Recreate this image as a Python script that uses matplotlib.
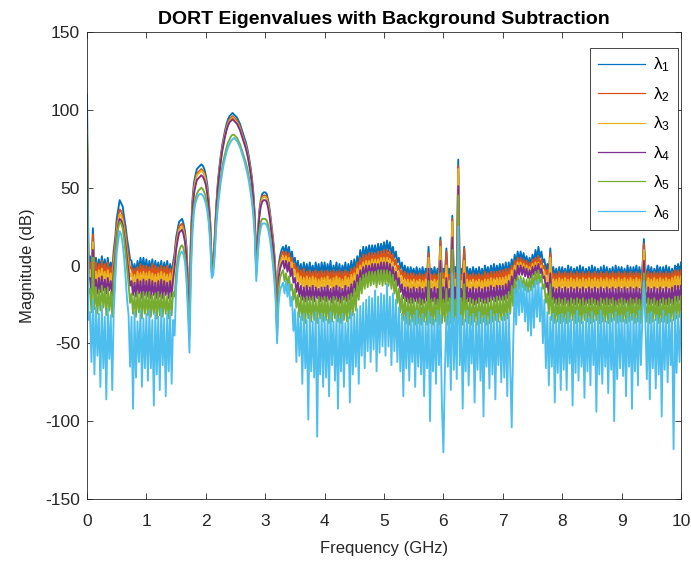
import numpy as np
import matplotlib
matplotlib.use("Agg")
import matplotlib.pyplot as plt

plt.rcParams["font.family"] = ["Liberation Sans", "DejaVu Sans"]
plt.rcParams["axes.unicode_minus"] = False
plt.rcParams["mathtext.default"] = "regular"

# Eigenvalue magnitudes (dB), one row per GHz, sampled every 25 MHz
STEP_GHZ = 0.025

lambda1_db = [
    [110, 2, 6, -3, 24, -2, 5, -4, 4, -3, 6, -2, 4, -4, 5, -3, 2, -4, 10, 18, 30, 36, 42, 40, 38, 31, 25, 17, 11, 4, 3, -4, 1, -5, 3, -3, 5, -2, 5, -3],
    [4, -4, 3, -3, 4, -5, 3, -3, 2, -4, 3, -5, 2, -4, 3, -5, 1, -5, 2, 8, 18, 23, 28, 29, 30, 27, 22, 12, -10, -30, 20, 42, 53, 58, 62, 63, 64, 65, 64, 62],
    [58, 52, 42, 28, 0, 3, 18, 38, 52, 62, 70, 77, 82, 87, 91, 94, 96, 97, 98, 97, 96, 95, 93, 91, 88, 85, 82, 79, 75, 70, 64, 57, 47, 32, 0, 20, 35, 42, 46, 47],
    [47, 46, 42, 36, 28, 20, 10, -5, -35, 0, 6, 10, 12, 8, 13, 7, 12, 5, 9, 2, 5, -3, 3, -5, 1, -6, 2, -5, 1, -6, 2, -5, 0, -6, 2, -5, 1, -7, 2, -5],
    [2, -6, 1, -5, 3, -7, 0, -5, 2, -6, 1, -7, 0, -5, 2, -6, 1, -5, 3, -4, 4, -3, 6, 0, 10, 3, 12, 5, 12, 6, 13, 6, 13, 7, 13, 6, 14, 7, 14, 8],
    [15, 8, 16, 9, 15, 7, 12, 5, 9, 2, 5, -2, 2, -5, 0, -6, -1, -7, -1, -6, -2, -7, -1, -8, -2, -7, -1, -8, -2, -7, 12, -8, -2, -7, -1, -8, -2, -7, 18, -8],
    [-2, -7, 11, -8, -2, -7, 32, -8, -1, -7, 68, -8, -2, -7, 12, -8, -1, -7, -2, -8, -1, -7, -2, -8, -1, -7, -2, -7, 0, -6, -1, -7, 0, -6, 1, -6, 0, -5, 1, -6],
    [1, -5, 2, -6, 2, -4, 4, -2, 7, 1, 9, 3, 9, 3, 8, 2, 6, 0, 5, 0, 7, 2, 10, 4, 12, 5, 9, 2, 4, -3, 1, -5, 11, -6, -1, -7, -2, -8, -1, -7],
    [-1, -7, -2, -8, 0, -7, -1, -8, -2, -6, -1, -8, 0, -7, -1, -8, -2, -7, -1, -8, 0, -6, -1, -8, -2, -7, -1, -8, 0, -7, -1, -8, -2, -7, -1, -8, 0, -7, -1, -6],
    [-1, -7, -2, -8, 0, -7, -1, -8, -1, -6, 0, -8, -1, -7, -2, 17, -1, -8, 0, -7, -1, -8, -2, -7, 0, -6, -1, -8, -1, -7, 0, -7, -1, -8, -2, -7, 0, -6, 1, -6, 2],
]

lambda2_db = [
    [88, -2, 2, -6, 20, -5, 2, -7, 1, -6, 3, -5, 1, -7, 2, -6, -1, -7, 6, 14, 25, 31, 36, 35, 32, 26, 20, 12, 6, -2, -1, -7, -2, -8, -1, -7, 1, -6, 0, -7],
    [0, -7, -1, -8, 1, -8, 0, -7, -1, -8, 0, -8, -1, -7, 0, -8, -2, -8, -1, 5, 15, 20, 25, 26, 27, 24, 19, 9, -12, -32, 18, 39, 50, 55, 59, 60, 61, 62, 61, 59],
    [55, 49, 40, 26, -1, 2, 16, 36, 50, 60, 68, 75, 80, 85, 89, 92, 94, 95, 96, 95, 94, 93, 91, 89, 86, 83, 80, 77, 73, 68, 62, 55, 45, 30, -2, 18, 33, 40, 44, 45],
    [45, 44, 40, 34, 26, 18, 8, -8, -38, -3, 3, 7, 9, 5, 9, 3, 8, 1, 5, -2, 1, -6, -1, -8, -3, -9, -2, -10, -4, -9, -3, -10, -4, -9, -3, -11, -4, -10, -3, -9],
    [-4, -10, -3, -9, -4, -11, -3, -10, -4, -9, -3, -11, -4, -10, -3, -9, -4, -10, -2, -8, -1, -7, 2, -4, 5, -2, 7, 0, 7, 1, 8, 1, 8, 2, 8, 2, 9, 2, 9, 3],
    [10, 3, 10, 4, 9, 2, 7, 0, 4, -3, 0, -6, -3, -9, -4, -10, -5, -11, -5, -10, -5, -11, -6, -10, -5, -11, -6, -11, -5, -10, 8, -11, -6, -10, -5, -11, -6, -10, 16, -11],
    [-5, -11, 9, -10, -6, -11, 30, -10, -5, -11, 64, -10, -6, -11, 11, -10, -5, -11, -6, -10, -5, -11, -6, -10, -5, -11, -6, -11, -4, -10, -5, -10, -4, -10, -4, -9, -4, -10, -3, -9],
    [-3, -9, -2, -9, -2, -8, 0, -6, 3, -2, 5, 0, 5, -1, 4, -2, 3, -3, 2, -3, 4, -1, 5, 0, 6, 0, 4, -2, 0, -6, -3, -8, 8, -9, -5, -10, -5, -11, -4, -10],
    [-5, -10, -4, -11, -5, -10, -4, -10, -5, -11, -4, -10, -5, -11, -4, -10, -5, -10, -4, -11, -5, -10, -4, -10, -5, -11, -4, -10, -5, -10, -4, -11, -5, -10, -4, -10, -5, -11, -4, -10],
    [-5, -10, -4, -11, -5, -10, -4, -10, -5, -11, -4, -10, -5, -11, -4, 14, -5, -10, -4, -11, -5, -10, -4, -10, -5, -11, -4, -10, -5, -10, -4, -10, -5, -11, -4, -10, -3, -9, -3, -9, -3],
]

lambda3_db = [
    [86, -5, -3, -10, 15, -9, -4, -11, -3, -10, -2, -9, -4, -11, -3, -10, -5, -12, 2, 10, 22, 28, 33, 32, 29, 23, 16, 8, 1, -7, -5, -12, -6, -13, -4, -11, -5, -12, -4, -11],
    [-5, -12, -4, -13, -5, -12, -6, -13, -5, -12, -4, -13, -5, -12, -6, -13, -5, -12, -4, 2, 12, 18, 23, 24, 25, 22, 17, 7, -14, -34, 16, 37, 48, 54, 58, 59, 60, 61, 60, 58],
    [54, 48, 39, 25, -2, 1, 15, 35, 49, 59, 67, 74, 79, 84, 88, 91, 93, 94, 95, 94, 93, 92, 90, 88, 85, 82, 79, 76, 72, 67, 61, 54, 44, 29, -3, 17, 32, 39, 43, 44],
    [44, 43, 39, 33, 25, 17, 7, -9, -40, -5, 1, 4, 6, 2, 6, 0, 5, -3, 2, -6, -3, -10, -5, -12, -7, -14, -8, -15, -7, -14, -8, -15, -7, -14, -8, -16, -9, -15, -8, -14],
    [-8, -15, -7, -14, -9, -16, -8, -15, -7, -14, -8, -16, -9, -15, -7, -14, -8, -15, -6, -13, -5, -11, -2, -8, 0, -6, 2, -4, 3, -3, 3, -3, 4, -2, 4, -2, 4, -1, 5, -2],
    [5, -2, 5, -1, 4, -3, 2, -5, -1, -8, -4, -11, -7, -14, -9, -15, -9, -16, -10, -16, -9, -15, -10, -16, -9, -16, -10, -15, -9, -16, 5, -16, -10, -15, -9, -16, -10, -15, 12, -16],
    [-9, -15, 0, -16, -10, -15, 28, -16, -9, -15, 62, -16, -10, -15, 3, -16, -9, -15, -10, -16, -9, -15, -10, -16, -9, -15, -10, -16, -9, -15, -9, -15, -8, -14, -9, -15, -8, -14, -8, -14],
    [-8, -14, -7, -14, -6, -12, -3, -9, 0, -5, 2, -3, 2, -4, 1, -5, 0, -6, -1, -6, 1, -4, 2, -3, 2, -4, 0, -6, -4, -10, -7, -13, 5, -14, -9, -15, -9, -16, -8, -15],
    [-9, -15, -8, -16, -9, -15, -8, -15, -9, -16, -8, -15, -9, -16, -8, -15, -9, -15, -8, -16, -9, -15, -8, -15, -9, -16, -8, -15, -9, -15, -8, -16, -9, -15, -8, -15, -9, -16, -8, -15],
    [-9, -15, -8, -16, -9, -15, -8, -15, -9, -16, -8, -15, -9, -16, -8, 10, -9, -15, -8, -16, -9, -15, -8, -15, -9, -16, -8, -15, -9, -15, -8, -15, -9, -16, -8, -15, -7, -14, -7, -14, -7],
]

lambda4_db = [
    [84, -9, -8, -17, 10, -16, -9, -18, -8, -17, -7, -16, -9, -18, -8, -16, -10, -19, -3, 6, 19, 26, 30, 29, 26, 20, 13, 4, -4, -13, -10, -19, -11, -20, -9, -18, -10, -21, -9, -19],
    [-10, -20, -9, -21, -10, -19, -11, -21, -10, -20, -9, -21, -10, -19, -11, -21, -10, -20, -9, -1, 10, 16, 21, 22, 23, 20, 15, 5, -16, -38, 14, 35, 46, 51, 55, 56, 57, 58, 57, 55],
    [52, 46, 37, 23, -3, 0, 14, 34, 48, 58, 66, 73, 78, 83, 87, 90, 92, 93, 94, 93, 92, 91, 89, 87, 84, 81, 78, 75, 71, 66, 60, 53, 43, 28, -4, 16, 31, 38, 41, 42],
    [42, 41, 37, 31, 23, 15, 5, -11, -42, -8, -2, 1, 3, -2, 3, -4, 2, -7, -2, -11, -8, -17, -11, -20, -13, -22, -14, -23, -13, -22, -14, -22, -13, -23, -14, -21, -15, -23, -14, -22],
    [-14, -23, -13, -22, -15, -24, -14, -22, -13, -23, -14, -24, -15, -22, -13, -23, -14, -22, -12, -20, -10, -17, -6, -13, -3, -10, -1, -8, 0, -7, 0, -7, 1, -6, 1, -7, 1, -6, 2, -7],
    [2, -8, 2, -7, 1, -8, -1, -10, -4, -13, -8, -17, -12, -21, -14, -23, -14, -24, -15, -24, -14, -23, -15, -24, -14, -25, -15, -24, -14, -23, -2, -24, -15, -23, -14, -25, -15, -24, 3, -25],
    [-14, -24, -8, -23, -15, -24, 18, -25, -14, -23, 51, -24, -15, -25, -5, -24, -14, -23, -15, -24, -14, -25, -15, -24, -14, -23, -15, -24, -14, -24, -14, -23, -13, -22, -14, -23, -13, -22, -13, -22],
    [-13, -22, -12, -21, -10, -19, -7, -15, -3, -10, 0, -6, 0, -6, -1, -7, -2, -8, -3, -8, -1, -6, 0, -5, 1, -5, -2, -8, -7, -14, -11, -19, -5, -22, -14, -24, -15, -25, -14, -24],
    [-15, -25, -14, -24, -15, -26, -14, -24, -15, -25, -14, -24, -15, -26, -14, -25, -15, -24, -14, -25, -15, -24, -14, -25, -15, -26, -14, -24, -15, -25, -14, -25, -15, -24, -14, -26, -15, -25, -14, -24],
    [-15, -25, -14, -24, -15, -26, -14, -25, -15, -24, -14, -25, -15, -26, -14, 3, -15, -24, -14, -25, -15, -24, -14, -25, -15, -26, -14, -24, -15, -25, -14, -25, -15, -24, -14, -25, -13, -23, -13, -22, -13],
]

lambda5_db = [
    [83, -18, -15, -30, 5, -28, -14, -31, -16, -29, -13, -27, -15, -32, -14, -29, -17, -33, -8, 2, 16, 24, 28, 27, 24, 17, 8, -2, -12, -24, -18, -31, -19, -33, -17, -30, -18, -34, -17, -31],
    [-18, -32, -17, -33, -19, -31, -18, -34, -17, -32, -19, -33, -18, -31, -20, -34, -18, -32, -17, -20, -5, 4, 9, 12, 13, 11, 6, -5, -25, -45, 5, 27, 38, 43, 46, 48, 49, 50, 49, 47],
    [44, 38, 30, 17, -5, -2, 10, 28, 40, 49, 56, 63, 68, 72, 76, 79, 81, 83, 84, 84, 83, 82, 80, 78, 75, 72, 69, 66, 62, 57, 51, 44, 35, 21, -6, 10, 22, 28, 30, 30],
    [30, 29, 26, 21, 14, 6, -4, -18, -45, -15, -8, -5, -3, -10, -5, -13, -7, -16, -12, -22, -15, -27, -19, -33, -20, -35, -21, -37, -20, -34, -21, -36, -20, -35, -22, -37, -20, -34, -21, -36],
    [-20, -35, -21, -37, -22, -36, -20, -34, -21, -36, -22, -37, -20, -35, -21, -36, -19, -34, -18, -32, -15, -29, -11, -22, -8, -18, -6, -15, -5, -14, -4, -13, -4, -12, -4, -14, -3, -12, -3, -13],
    [-3, -12, -3, -13, -4, -15, -6, -18, -10, -24, -15, -30, -19, -35, -21, -37, -22, -38, -21, -36, -22, -38, -23, -37, -21, -38, -22, -36, -23, -38, -10, -37, -22, -38, -21, -36, -22, -38, -5, -37],
    [-22, -36, -15, -38, -21, -37, 10, -36, -22, -38, 45, -37, -21, -38, -12, -36, -22, -37, -21, -38, -22, -36, -23, -38, -21, -37, -22, -36, -23, -38, -21, -37, -22, -36, -21, -35, -20, -36, -21, -35],
    [-20, -35, -19, -34, -17, -31, -13, -26, -9, -20, -7, -15, -7, -14, -8, -16, -9, -17, -8, -16, -6, -14, -4, -12, -3, -11, -6, -15, -12, -24, -18, -31, -12, -35, -21, -37, -22, -36, -21, -37],
    [-22, -36, -21, -37, -23, -36, -21, -35, -22, -37, -21, -36, -22, -37, -21, -35, -23, -36, -22, -37, -21, -36, -22, -35, -23, -37, -21, -36, -22, -36, -21, -37, -22, -36, -21, -35, -23, -37, -22, -36],
    [-21, -36, -22, -37, -23, -36, -21, -35, -22, -37, -21, -36, -22, -37, -21, -5, -22, -36, -21, -37, -22, -36, -21, -35, -23, -37, -22, -36, -21, -36, -22, -37, -21, -36, -22, -35, -20, -34, -20, -33, -20],
]

lambda6_db = [
    [71, -35, -30, -62, -22, -70, -27, -58, -31, -78, -26, -66, -33, -86, -28, -60, -32, -80, -30, -10, 8, 16, 22, 20, 14, 5, -8, -22, -32, -65, -33, -92, -30, -72, -36, -62, -29, -78, -34, -66],
    [-31, -74, -29, -66, -35, -90, -30, -70, -33, -80, -28, -64, -34, -84, -31, -68, -29, -76, -35, -45, -15, -2, 5, 8, 9, 7, 2, -10, -30, -56, -5, 20, 34, 40, 43, 45, 46, 46, 45, 43],
    [40, 35, 27, 14, -8, -6, 6, 24, 36, 45, 53, 59, 65, 69, 73, 76, 78, 80, 81, 82, 81, 80, 78, 76, 73, 70, 67, 63, 59, 54, 48, 41, 32, 18, -10, 6, 18, 24, 27, 27],
    [27, 26, 23, 18, 11, 2, -8, -22, -50, -25, -16, -13, -11, -18, -10, -20, -12, -26, -20, -42, -28, -62, -30, -58, -33, -76, -31, -66, -35, -99, -32, -68, -36, -72, -30, -110, -34, -70, -31, -78],
    [-33, -72, -35, -84, -30, -64, -36, -74, -32, -92, -34, -68, -31, -78, -37, -63, -33, -88, -30, -70, -31, -65, -28, -76, -26, -58, -24, -66, -22, -55, -20, -62, -21, -54, -16, -68, -20, -56, -18, -52],
    [-19, -58, -12, -52, -20, -64, -18, -55, -22, -62, -27, -68, -31, -84, -33, -66, -30, -74, -35, -62, -32, -78, -29, -65, -34, -70, -31, -84, -36, -66, -30, -100, -33, -68, -35, -76, -29, -64, -32, -90],
    [-120, -68, -33, -65, -30, -80, -5, -67, -34, -73, 25, -64, -32, -92, -35, -68, -29, -77, -33, -63, -31, -88, -36, -67, -30, -74, -34, -97, -32, -65, -35, -79, -29, -70, -33, -86, -31, -64, -36, -75],
    [-33, -72, -31, -84, -30, -65, -104, -50, -15, -38, -10, -32, -9, -30, -12, -36, -14, -42, -16, -45, -13, -40, -10, -33, -9, -36, -14, -50, -22, -66, -30, -77, -33, -65, -31, -88, -35, -69, -32, -80],
    [-31, -67, -34, -80, -30, -63, -35, -90, -32, -69, -29, -74, -33, -65, -36, -85, -31, -68, -34, -77, -30, -64, -35, -94, -32, -70, -29, -76, -33, -65, -36, -82, -31, -67, -34, -100, -30, -73, -33, -66],
    [-32, -71, -35, -84, -30, -65, -33, -92, -31, -68, -34, -77, -29, -64, -33, -10, -36, -73, -31, -86, -30, -66, -35, -79, -32, -70, -34, -97, -29, -67, -33, -75, -31, -64, -35, -118, -30, -69, -32, -62, -30],
]

series_labels = [r"$\lambda_{1}$", r"$\lambda_{2}$", r"$\lambda_{3}$",
                 r"$\lambda_{4}$", r"$\lambda_{5}$", r"$\lambda_{6}$"]
series_colors = ["#0072BD", "#D95319", "#EDB120", "#7E2F8E", "#77AC30", "#4DBEEE"]
x_ticks = [0, 1, 2, 3, 4, 5, 6, 7, 8, 9, 10]
y_ticks = [-150, -100, -50, 0, 50, 100, 150]


def unroll(rows):
    """Flatten per-GHz rows into (frequency, magnitude) arrays."""
    freq = np.concatenate([k + STEP_GHZ * np.arange(len(r)) for k, r in enumerate(rows)])
    mag = np.concatenate([np.asarray(r, dtype=float) for r in rows])
    return freq, mag


W, H = 691, 561
fig = plt.figure(figsize=(W / 100, H / 100), dpi=100)
ax = fig.add_axes([87 / W, 62 / H, 594 / W, 467 / H])

all_series = [lambda1_db, lambda2_db, lambda3_db, lambda4_db, lambda5_db, lambda6_db]
for rows, color, label in zip(all_series, series_colors, series_labels):
    f, m = unroll(rows)
    ax.plot(f, m, color=color, lw=1.35, label=label)

dark = "#262626"
ax.set_xlim(0, 10)
ax.set_ylim(-150, 150)
ax.set_xticks(x_ticks)
ax.set_yticks(y_ticks)
ax.tick_params(axis="both", direction="in", length=4, width=0.6, colors=dark,
               top=True, right=True, labelsize=12.5)
ax.tick_params(axis="x", pad=11)
ax.tick_params(axis="y", pad=5)
for s in ax.spines.values():
    s.set_color(dark)
    s.set_linewidth(0.6)

ax.set_title("DORT Eigenvalues with Background Subtraction",
             fontsize=14, fontweight="bold", color="black", pad=6)
ax.set_xlabel("Frequency (GHz)", fontsize=12, color=dark)
ax.set_ylabel("Magnitude (dB)", fontsize=12, color=dark)
ax.xaxis.set_label_coords(0.5, -0.089)
ax.yaxis.set_label_coords(-0.088, 0.5)

leg = ax.legend(loc="upper right", bbox_to_anchor=(0.995, 0.966), borderaxespad=0,
                fancybox=False, edgecolor=dark, framealpha=1, fontsize=12.5,
                handlelength=2.7, handletextpad=0.45, labelspacing=0.62,
                borderpad=0.45)
leg.get_frame().set_linewidth(0.6)
for handle in leg.get_lines():
    handle.set_linewidth(0.9)

fig.savefig("out.png", dpi=100)
